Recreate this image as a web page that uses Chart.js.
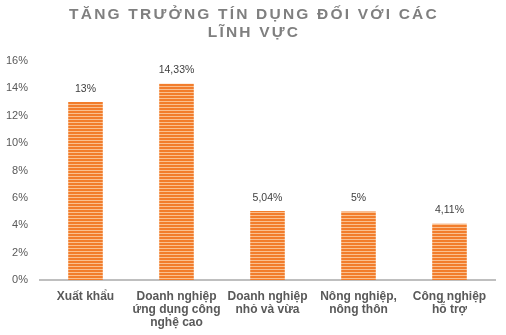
<!DOCTYPE html>
<html><head><meta charset="utf-8">
<script src="https://cdn.jsdelivr.net/npm/chart.js@4"></script>
<style>html,body{margin:0;padding:0;background:#fff}#wrap{width:506px;height:335px}</style>
</head><body><div id="wrap"><canvas id="c" width="506" height="335"></canvas></div>
<script>
const titleLines = ["TĂNG TRƯỞNG TÍN DỤNG ĐỐI VỚI CÁC", "LĨNH VỰC"];
const categories = [["Xuất khẩu"], ["Doanh nghiệp", "ứng dụng công", "nghệ cao"], ["Doanh nghiệp", "nhỏ và vừa"], ["Nông nghiệp,", "nông thôn"], ["Công nghiệp", "hỗ trợ"]];
const values = [13, 14.33, 5.04, 5, 4.11];
const valueLabels = ["13%", "14,33%", "5,04%", "5%", "4,11%"];
const yTicks = [0, 2, 4, 6, 8, 10, 12, 14, 16];

function makePattern() {
  const p = document.createElement('canvas');
  p.width = 4; p.height = 3;
  const g = p.getContext('2d');
  g.fillStyle = '#F27D2C'; g.fillRect(0, 0, 4, 3);
  g.fillStyle = '#FAC08F'; g.fillRect(0, 2, 4, 1);
  return document.getElementById('c').getContext('2d').createPattern(p, 'repeat');
}

const titlePlugin = {
  id: 'customTitle',
  afterDraw(chart) {
    const ctx = chart.ctx;
    ctx.save();
    ctx.font = 'bold 15.5px "Liberation Sans", Arial, sans-serif';
    ctx.fillStyle = '#7F7F7F';
    ctx.textAlign = 'center';
    ctx.textBaseline = 'middle';
    if ('letterSpacing' in ctx) ctx.letterSpacing = '2.2px';
    ctx.fillText(titleLines[0], 253 + 1, 15);
    ctx.fillText(titleLines[1], 253 + 1, 33);
    ctx.restore();
  }
};

const valuePlugin = {
  id: 'valueLabels',
  afterDatasetsDraw(chart) {
    const ctx = chart.ctx;
    const meta = chart.getDatasetMeta(0);
    ctx.save();
    ctx.font = '10.5px "Liberation Sans", Arial, sans-serif';
    ctx.fillStyle = '#404040';
    ctx.textAlign = 'center';
    ctx.textBaseline = 'bottom';
    meta.data.forEach((bar, i) => {
      ctx.fillText(valueLabels[i], bar.x, bar.y - 8);
    });
    ctx.restore();
  }
};

new Chart(document.getElementById('c'), {
  type: 'bar',
  data: {
    labels: categories,
    datasets: [{
      data: values,
      backgroundColor: makePattern(),
      borderWidth: 0,
      categoryPercentage: 1,
      barPercentage: 0.38
    }]
  },
  options: {
    responsive: false,
    animation: false,
    devicePixelRatio: 1,
    layout: { padding: { top: 61, left: 4, right: 11, bottom: 0 } },
    plugins: { legend: { display: false }, title: { display: false }, tooltip: { enabled: false } },
    scales: {
      x: {
        grid: { display: false, drawTicks: false },
        border: { display: true, color: '#BFBFBF', width: 2 },
        afterFit(axis) { axis.height = 55; },
        ticks: {
          color: '#595959',
          font: { family: '"Liberation Sans", Arial, sans-serif', size: 12, weight: 'bold', lineHeight: '13px' },
          padding: 10,
          maxRotation: 0,
          autoSkip: false
        }
      },
      y: {
        min: 0, max: 16,
        afterBuildTicks(axis) { axis.ticks = yTicks.map(v => ({ value: v })); },
        afterFit(axis) { axis.width = 36; },
        grid: { display: false, drawTicks: false },
        border: { display: false },
        ticks: {
          color: '#595959',
          font: { family: '"Liberation Sans", Arial, sans-serif', size: 11 },
          padding: 12,
          callback: v => v + '%'
        }
      }
    }
  },
  plugins: [titlePlugin, valuePlugin]
});
</script></body></html>
